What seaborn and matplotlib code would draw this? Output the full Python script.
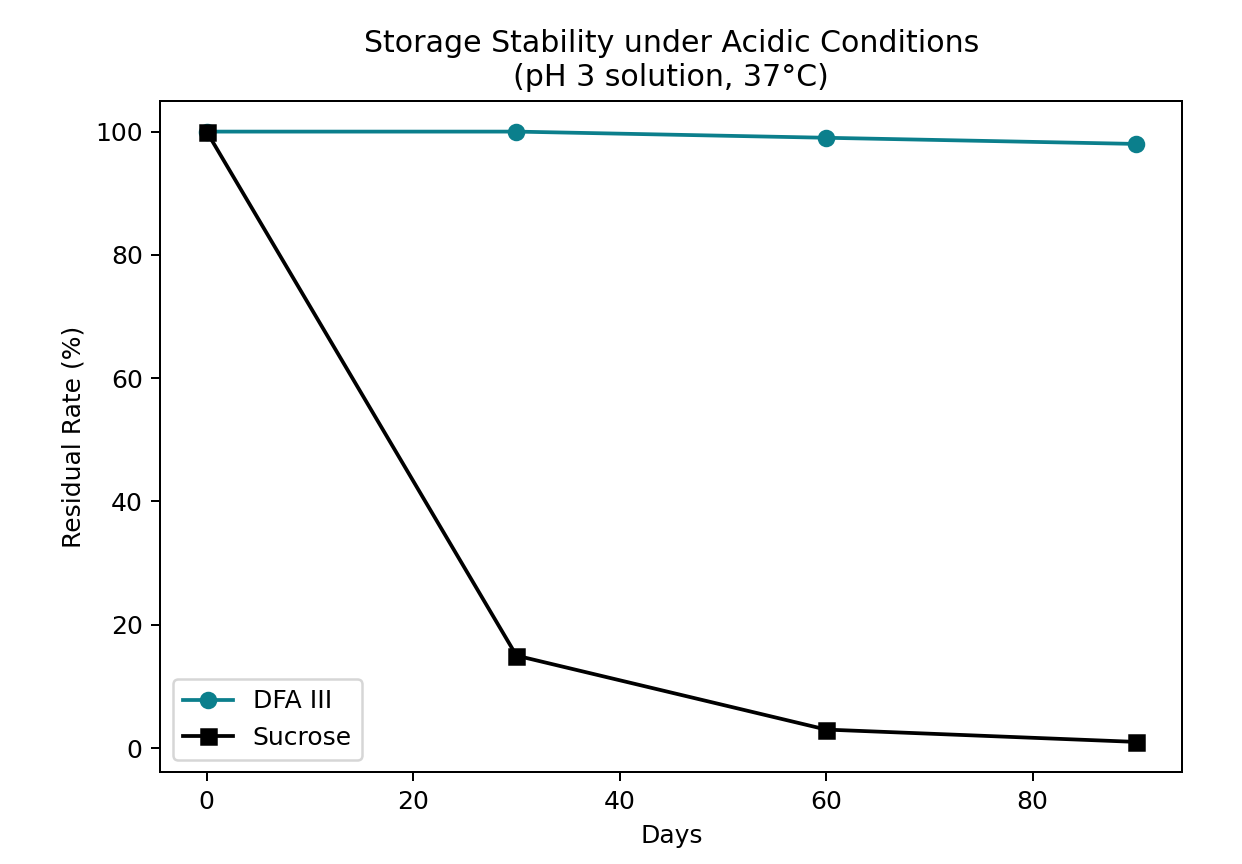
import matplotlib

matplotlib.use("Agg")

import matplotlib.pyplot as plt
import pandas as pd
import seaborn as sns

days = [0, 30, 60, 90]
dfa_residual = [100, 100, 99, 98]
sucrose_residual = [100, 15, 3, 1]

series_names = ["DFA III", "Sucrose"]
series_colors = {"DFA III": "#0b7f8c", "Sucrose": "#000000"}
series_markers = {"DFA III": "o", "Sucrose": "s"}

frame = pd.DataFrame(
    {
        "Days": days * 2,
        "Residual": dfa_residual + sucrose_residual,
        "Sample": ["DFA III"] * len(days) + ["Sucrose"] * len(days),
    }
)

fig, ax = plt.subplots(figsize=(6.9, 4.8), dpi=180)
fig.subplots_adjust(left=0.129, right=0.952, top=0.883, bottom=0.106)

for name in series_names:
    part = frame[frame["Sample"] == name]
    color = series_colors[name]
    sns.lineplot(
        data=part,
        x="Days",
        y="Residual",
        ax=ax,
        color=color,
        marker=series_markers[name],
        markersize=6,
        markeredgecolor=color,
        markeredgewidth=1,
        linewidth=1.5,
        label=name,
    )

ax.set_title("Storage Stability under Acidic Conditions\n(pH 3 solution, 37°C)", fontsize=12)
ax.set_xlabel("Days")
ax.set_ylabel("Residual Rate (%)")
ax.legend(loc="lower left")

fig.savefig("out.png", dpi=180)
plt.close(fig)
